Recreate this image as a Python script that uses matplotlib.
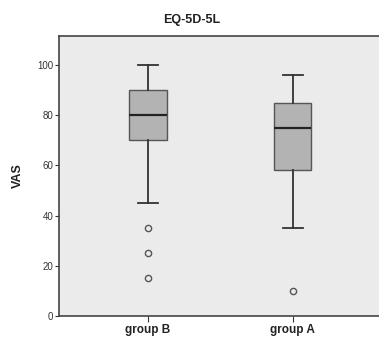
import matplotlib
matplotlib.use("Agg")
import matplotlib.pyplot as plt

plt.rcParams["font.family"] = ["Liberation Sans", "DejaVu Sans"]

categories = ["group B", "group A"]
whisker_low = [45, 35]
q1 = [70, 58]
median = [80, 75]
q3 = [90, 85]
whisker_high = [100, 96]
outliers = [[35, 25, 15], [10]]
yticks = [0, 20, 40, 60, 80, 100]

stats = []
for i, c in enumerate(categories):
    stats.append(dict(label=c, whislo=whisker_low[i], q1=q1[i], med=median[i],
                      q3=q3[i], whishi=whisker_high[i], fliers=outliers[i]))

fig = plt.figure(figsize=(3.79, 3.42), dpi=100)
fig.patch.set_facecolor("white")
ax = fig.add_axes([59/379, 1-316/342, 320/379, 280/342])
ax.set_facecolor("#ebebeb")

ax.bxp(stats, positions=[1, 2], widths=0.256, patch_artist=True,
       boxprops=dict(facecolor="#b3b3b3", edgecolor="#555555", linewidth=1.0),
       medianprops=dict(color="#222222", linewidth=1.6),
       whiskerprops=dict(color="#333333", linewidth=1.3),
       capprops=dict(color="#333333", linewidth=1.3),
       capwidths=0.14,
       flierprops=dict(marker="o", markersize=4.5, markerfacecolor="none",
                       markeredgecolor="#555555", markeredgewidth=1.0))

ax.set_xlim(0.385, 2.596)
ax.set_ylim(0, 111.5)
ax.set_yticks(yticks)
ax.set_yticklabels([str(t) for t in yticks], fontsize=7, color="#333333")
ax.set_xticks([1, 2])
ax.set_xticklabels(categories, fontsize=8.5, fontweight="bold", color="#222222")
ax.tick_params(axis="y", length=3, width=0.8, pad=1, colors="#333333")
ax.tick_params(axis="x", length=4, width=0.8, pad=2, colors="#333333")
for lbl in ax.get_xticklabels():
    lbl.set_color("#222222")
for s in ["top", "bottom", "left"]:
    ax.spines[s].set_color("#444444")
    ax.spines[s].set_linewidth(1.2)
ax.spines["right"].set_visible(False)

ax.set_ylabel("VAS", fontsize=9, fontweight="bold", color="#222222", labelpad=10)
fig.text(192/379, 1-20/342, "EQ-5D-5L", ha="center", va="center",
         fontsize=9, fontweight="bold", color="#222222")

fig.savefig("out.png", dpi=100)
